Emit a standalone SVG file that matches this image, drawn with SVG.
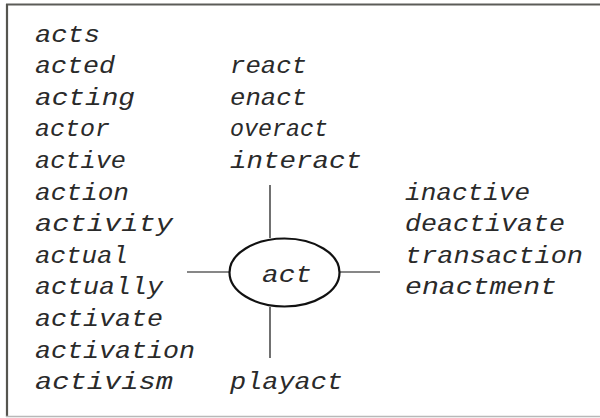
<svg xmlns="http://www.w3.org/2000/svg" width="600" height="418" viewBox="0 0 600 418">
<style>
.w{font-family:"Liberation Mono","DejaVu Sans Mono",monospace;font-style:italic;font-size:24px;fill:#2a2a2a}
.c{stroke:#111;stroke-width:1.2;fill:none}
</style>
<rect x="0" y="0" width="600" height="418" fill="#fff"/>
<g id="frame">
<line x1="6" y1="4.5" x2="600" y2="4.5" stroke="#5c5c58" stroke-width="2"/>
<line x1="7" y1="4" x2="7" y2="417" stroke="#55554f" stroke-width="2.2"/>
<line x1="6" y1="416.5" x2="600" y2="416.5" stroke="#b8b8b8" stroke-width="1.5"/>
</g>
<g id="connectors">
<line class="c" x1="270" y1="185" x2="270" y2="238"/>
<line class="c" x1="270" y1="307" x2="270" y2="358"/>
<line class="c" x1="187" y1="272" x2="229" y2="272"/>
<line class="c" x1="340" y1="272" x2="380" y2="272"/>
</g>
<g id="center">
<ellipse cx="284.5" cy="272.5" rx="55" ry="34" fill="none" stroke="#111" stroke-width="2.2"/>
<text class="w" x="262" y="282" textLength="50" lengthAdjust="spacingAndGlyphs">act</text>
</g>
<g id="left">
<text class="w" x="35" y="41.5" textLength="65" lengthAdjust="spacingAndGlyphs">acts</text>
<text class="w" x="35" y="73" textLength="80" lengthAdjust="spacingAndGlyphs">acted</text>
<text class="w" x="35" y="104.7" textLength="100" lengthAdjust="spacingAndGlyphs">acting</text>
<text class="w" x="35" y="136.3" textLength="75" lengthAdjust="spacingAndGlyphs">actor</text>
<text class="w" x="35" y="167.9" textLength="91" lengthAdjust="spacingAndGlyphs">active</text>
<text class="w" x="35" y="199.5" textLength="94" lengthAdjust="spacingAndGlyphs">action</text>
<text class="w" x="35" y="231.1" textLength="138" lengthAdjust="spacingAndGlyphs">activity</text>
<text class="w" x="35" y="262.7" textLength="93" lengthAdjust="spacingAndGlyphs">actual</text>
<text class="w" x="35" y="294.3" textLength="128" lengthAdjust="spacingAndGlyphs">actually</text>
<text class="w" x="35" y="325.9" textLength="128" lengthAdjust="spacingAndGlyphs">activate</text>
<text class="w" x="35" y="357.5" textLength="160" lengthAdjust="spacingAndGlyphs">activation</text>
<text class="w" x="35" y="389.1" textLength="138" lengthAdjust="spacingAndGlyphs">activism</text>
</g>
<g id="top">
<text class="w" x="230" y="73" textLength="77" lengthAdjust="spacingAndGlyphs">react</text>
<text class="w" x="230" y="104.7" textLength="77" lengthAdjust="spacingAndGlyphs">enact</text>
<text class="w" x="230" y="136.3" textLength="98" lengthAdjust="spacingAndGlyphs">overact</text>
<text class="w" x="230" y="167.9" textLength="132" lengthAdjust="spacingAndGlyphs">interact</text>
</g>
<g id="right">
<text class="w" x="405" y="199.5" textLength="125" lengthAdjust="spacingAndGlyphs">inactive</text>
<text class="w" x="405" y="231.1" textLength="160" lengthAdjust="spacingAndGlyphs">deactivate</text>
<text class="w" x="405" y="262.7" textLength="178" lengthAdjust="spacingAndGlyphs">transaction</text>
<text class="w" x="405" y="294.3" textLength="152" lengthAdjust="spacingAndGlyphs">enactment</text>
</g>
<g id="bottom">
<text class="w" x="230" y="389.1" textLength="113" lengthAdjust="spacingAndGlyphs">playact</text>
</g>
</svg>
